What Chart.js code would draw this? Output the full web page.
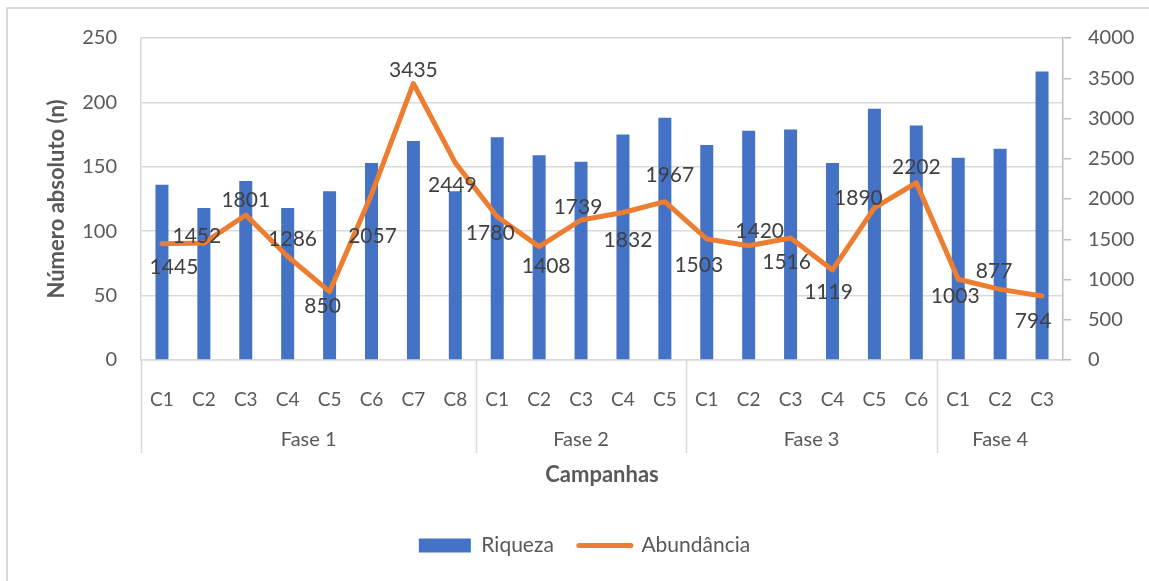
<!DOCTYPE html>
<html>
<head>
<meta charset="utf-8">
<script src="https://cdn.jsdelivr.net/npm/chart.js@4.4.1/dist/chart.umd.min.js"></script>
<style>
  html, body { margin: 0; padding: 0; background: #fff; }
  #wrap { width: 1149px; height: 581px; position: relative; }
</style>
</head>
<body>
<div id="wrap"><canvas id="chart"></canvas></div>
<script>
// categories
const campanhas = ['C1','C2','C3','C4','C5','C6','C7','C8',
                   'C1','C2','C3','C4','C5',
                   'C1','C2','C3','C4','C5','C6',
                   'C1','C2','C3'];
const fases = ['Fase 1', 'Fase 2', 'Fase 3', 'Fase 4'];
const campanhasPorFase = [8, 5, 6, 3];

// series
const riqueza = [136, 118, 139, 118, 131, 153, 170, 131,
                 173, 159, 154, 175, 188,
                 167, 178, 179, 153, 195, 182,
                 157, 164, 224];
const abundancia = [1445, 1452, 1801, 1286, 850, 2057, 3435, 2449,
                    1780, 1408, 1739, 1832, 1967,
                    1503, 1420, 1516, 1119, 1890, 2202,
                    1003, 877, 794];

// where each value label sits relative to its point (dx, dy)
const labelOffsets = [[12,24],[-7,-7],[0,-15],[5,-17],[-7,15],[1,42],[0,-13],[-3,22],
                      [-7,17],[7,20],[-3,-13],[5,28],[5,-26],
                      [-8,26],[11,-14],[-4,24],[-4,22],[-16,-10],[0,-16],
                      [-3,17],[-6,-18],[-9,25]];

const FONT = 'Lato, "Noto Sans", sans-serif';
const TXT = '#595959';
const GRID = '#d9d9d9';

// outer frame of the chart
const framePlugin = {
  id: 'frame',
  beforeDraw(chart) {
    const ctx = chart.ctx;
    ctx.save();
    ctx.strokeStyle = GRID;
    ctx.lineWidth = 2;
    ctx.beginPath();
    ctx.moveTo(7, 600);
    ctx.lineTo(7, 8);
    ctx.lineTo(1160, 8);
    ctx.stroke();
    ctx.restore();
  }
};

// numbers on the line
const valueLabels = {
  id: 'valueLabels',
  afterDatasetsDraw(chart) {
    const ctx = chart.ctx;
    const meta = chart.getDatasetMeta(1);
    ctx.save();
    ctx.font = '21px ' + FONT;
    ctx.fillStyle = '#404040';
    ctx.textAlign = 'center';
    ctx.textBaseline = 'middle';
    meta.data.forEach((pt, i) => {
      const off = labelOffsets[i] || [0, -15];
      ctx.fillText(String(abundancia[i]), pt.x + off[0], pt.y + off[1]);
    });
    ctx.restore();
  }
};

// second row of the category axis: Fase groups + separators
const faseAxis = {
  id: 'faseAxis',
  afterDraw(chart) {
    const ctx = chart.ctx;
    const x = chart.scales.x;
    const area = chart.chartArea;
    const bottom = area.bottom + 93;
    ctx.save();
    ctx.strokeStyle = GRID;
    ctx.lineWidth = 1.5;
    ctx.font = '20px ' + FONT;
    ctx.fillStyle = TXT;
    ctx.textAlign = 'center';
    ctx.textBaseline = 'middle';
    let start = 0;
    fases.forEach((f, g) => {
      const end = start + campanhasPorFase[g];
      const left = start === 0 ? area.left : (x.getPixelForValue(start - 1) + x.getPixelForValue(start)) / 2;
      const right = end >= campanhas.length ? area.right : (x.getPixelForValue(end - 1) + x.getPixelForValue(end)) / 2;
      ctx.beginPath();
      ctx.moveTo(Math.round(left) + 0.5, area.bottom);
      ctx.lineTo(Math.round(left) + 0.5, bottom);
      ctx.stroke();
      ctx.fillText(f, (left + right) / 2, area.bottom + 80);
      start = end;
    });
    ctx.restore();
  }
};

const ctx = document.getElementById('chart').getContext('2d');
new Chart(ctx, {
  type: 'bar',
  data: {
    labels: campanhas,
    datasets: [
      {
        type: 'bar',
        label: 'Riqueza',
        data: riqueza,
        backgroundColor: '#4472C4',
        borderWidth: 0,
        barPercentage: 0.31,
        categoryPercentage: 1,
        yAxisID: 'y',
        pointStyle: 'rect',
        order: 1
      },
      {
        type: 'line',
        label: 'Abundância',
        data: abundancia,
        borderColor: '#ED7D31',
        backgroundColor: '#ED7D31',
        borderWidth: 5,
        borderJoinStyle: 'round',
        borderCapStyle: 'round',
        pointRadius: 0,
        pointHoverRadius: 0,
        pointBorderWidth: 5,
        pointBorderColor: '#ED7D31',
        pointStyle: 'line',
        tension: 0,
        yAxisID: 'y1',
        order: 0
      }
    ]
  },
  options: {
    responsive: true,
    maintainAspectRatio: false,
    animation: false,
    layout: { padding: { top: 38, left: 20, right: 0, bottom: 15 } },
    plugins: {
      tooltip: { enabled: false },
      legend: {
        position: 'bottom',
        labels: {
          usePointStyle: true,
          pointStyleWidth: 52,
          boxHeight: 14,
          padding: 25,
          color: TXT,
          font: { family: FONT, size: 21 },
          sort: (a, b) => a.datasetIndex - b.datasetIndex,
          generateLabels(chart) {
            const items = Chart.defaults.plugins.legend.labels.generateLabels(chart);
            items.forEach(it => { if (it.datasetIndex === 1) it.lineCap = 'round'; });
            return items;
          }
        }
      }
    },
    scales: {
      x: {
        grid: { display: false },
        border: { display: true, color: GRID, width: 1.5 },
        ticks: { color: TXT, font: { family: FONT, size: 19 }, padding: 20, maxRotation: 0, autoSkip: false },
        title: {
          display: true,
          text: 'Campanhas',
          color: TXT,
          font: { family: FONT, size: 22, weight: 'bold' },
          padding: { top: 0, bottom: 22 }
        },
        afterFit(scale) { scale.height = 150; }
      },
      y: {
        position: 'left',
        min: 0,
        max: 250,
        ticks: { stepSize: 50, color: TXT, font: { family: FONT, size: 20 }, padding: 24 },
        grid: { color: GRID, lineWidth: 1.5, drawTicks: false },
        border: { display: true, color: GRID, width: 1.5 },
        title: {
          display: true,
          text: 'Número absoluto (n)',
          color: TXT,
          font: { family: FONT, size: 22, weight: 'bold' },
          padding: { top: 24, bottom: 0 }
        },
        afterFit(scale) { scale.width = 121; }
      },
      y1: {
        position: 'right',
        min: 0,
        max: 4000,
        ticks: {
          stepSize: 500,
          color: TXT,
          font: { family: FONT, size: 20 },
          padding: 17,
          callback: (v) => String(v)
        },
        grid: { drawOnChartArea: false, drawTicks: true, tickLength: 8, color: '#bfbfbf', lineWidth: 1.5 },
        border: { display: true, color: '#bfbfbf', width: 1.5 },
        afterFit(scale) { scale.width = 86; }
      }
    }
  },
  plugins: [framePlugin, valueLabels, faseAxis]
});
</script>
</body>
</html>
